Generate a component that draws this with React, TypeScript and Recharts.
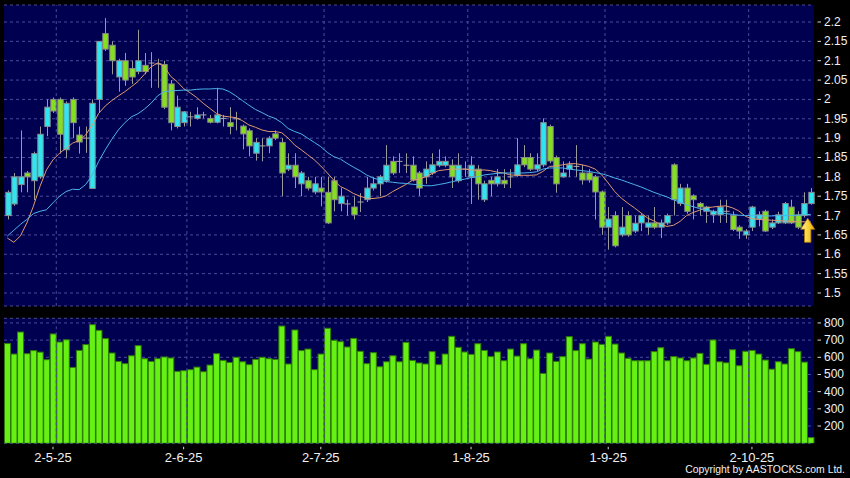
import { ComposedChart, BarChart, Bar, Line, XAxis, YAxis, CartesianGrid, ReferenceLine, ReferenceDot } from "recharts"

// daily candles
const opens = [
  1.70, 1.73, 1.78, 1.81, 1.79, 1.80, 1.93, 2.0, 2.0, 1.87,
  2.0, 1.908, 1.90, 1.77, 2.0, 2.17, 2.14, 2.058, 2.10, 2.08,
  2.072, 2.088, 2.094, 2.092, 2.09, 2.04, 1.93, 1.94, 1.955, 1.951,
  1.96, 1.951, 1.941, 1.951, 1.94, 1.95, 1.931, 1.919, 1.861, 1.88,
  1.88, 1.911, 1.889, 1.82, 1.83, 1.782, 1.79, 1.761, 1.771, 1.76,
  1.79, 1.731, 1.73, 1.722, 1.735, 1.741, 1.771, 1.782, 1.79, 1.84,
  1.84, 1.83, 1.83, 1.81, 1.80, 1.81, 1.83, 1.83, 1.83, 1.79,
  1.82, 1.80, 1.82, 1.741, 1.791, 1.782, 1.791, 1.80, 1.804, 1.85,
  1.85, 1.82, 1.831, 1.93, 1.85, 1.80, 1.82, 1.827, 1.81, 1.81,
  1.80, 1.761, 1.67, 1.70, 1.65, 1.70, 1.66, 1.681, 1.67, 1.681,
  1.67, 1.681, 1.831, 1.731, 1.771, 1.751, 1.731, 1.711, 1.702, 1.702,
  1.711, 1.70, 1.67, 1.65, 1.67, 1.691, 1.711, 1.67, 1.681, 1.681,
  1.722, 1.702, 1.70, 1.731,
]
const highs = [
  1.765, 1.81, 1.92, 1.815, 1.865, 1.93, 2.0, 2.005, 2.005, 1.995,
  2.005, 1.93, 1.93, 2.0, 2.15, 2.21, 2.15, 2.105, 2.12, 2.10,
  2.18, 2.12, 2.122, 2.105, 2.10, 2.05, 2.01, 1.97, 1.968, 1.98,
  1.968, 1.96, 2.03, 1.96, 1.98, 1.968, 1.935, 1.925, 1.90, 1.90,
  1.905, 1.92, 1.90, 1.861, 1.861, 1.815, 1.80, 1.80, 1.80, 1.80,
  1.80, 1.771, 1.741, 1.75, 1.758, 1.80, 1.80, 1.805, 1.882, 1.853,
  1.861, 1.861, 1.853, 1.815, 1.84, 1.861, 1.871, 1.853, 1.845, 1.861,
  1.84, 1.853, 1.83, 1.79, 1.80, 1.82, 1.82, 1.82, 1.90, 1.882,
  1.861, 1.861, 1.951, 1.935, 1.855, 1.84, 1.84, 1.882, 1.831, 1.82,
  1.805, 1.765, 1.722, 1.711, 1.722, 1.711, 1.70, 1.705, 1.70, 1.722,
  1.69, 1.705, 1.835, 1.782, 1.782, 1.755, 1.735, 1.725, 1.715, 1.741,
  1.741, 1.711, 1.675, 1.665, 1.725, 1.711, 1.715, 1.69, 1.71, 1.735,
  1.741, 1.711, 1.76, 1.771,
]
const lows = [
  1.69, 1.725, 1.76, 1.76, 1.74, 1.795, 1.905, 1.965, 1.86, 1.848,
  1.90, 1.86, 1.862, 1.77, 1.965, 2.125, 2.065, 2.02, 2.035, 2.04,
  2.065, 2.065, 2.03, 2.03, 1.975, 1.92, 1.925, 1.93, 1.93, 1.948,
  1.951, 1.938, 1.938, 1.93, 1.91, 1.92, 1.871, 1.853, 1.842, 1.84,
  1.861, 1.895, 1.75, 1.815, 1.771, 1.75, 1.765, 1.755, 1.724, 1.678,
  1.711, 1.711, 1.70, 1.69, 1.709, 1.735, 1.765, 1.75, 1.785, 1.805,
  1.81, 1.81, 1.788, 1.751, 1.782, 1.805, 1.825, 1.825, 1.771, 1.785,
  1.80, 1.73, 1.741, 1.735, 1.75, 1.775, 1.771, 1.771, 1.80, 1.825,
  1.815, 1.815, 1.825, 1.835, 1.759, 1.798, 1.80, 1.80, 1.78, 1.785,
  1.69, 1.65, 1.612, 1.618, 1.645, 1.645, 1.655, 1.66, 1.65, 1.665,
  1.642, 1.676, 1.70, 1.725, 1.705, 1.69, 1.70, 1.681, 1.681, 1.681,
  1.681, 1.66, 1.64, 1.64, 1.66, 1.672, 1.658, 1.665, 1.678, 1.678,
  1.678, 1.665, 1.695, 1.728,
]
const closes = [
  1.76, 1.80, 1.80, 1.80, 1.86, 1.91, 1.98, 1.97, 1.91, 1.99,
  1.94, 1.89, 1.90, 1.99, 2.15, 2.13, 2.10, 2.10, 2.05, 2.058,
  2.10, 2.072, 2.094, 2.092, 1.98, 1.94, 1.98, 1.968, 1.955, 1.96,
  1.96, 1.941, 1.96, 1.951, 1.93, 1.95, 1.911, 1.88, 1.889, 1.88,
  1.90, 1.90, 1.81, 1.83, 1.80, 1.81, 1.771, 1.782, 1.761, 1.681,
  1.741, 1.75, 1.73, 1.702, 1.735, 1.771, 1.782, 1.80, 1.83, 1.81,
  1.84, 1.83, 1.792, 1.771, 1.82, 1.831, 1.84, 1.84, 1.80, 1.83,
  1.82, 1.83, 1.782, 1.782, 1.782, 1.80, 1.782, 1.80, 1.831, 1.831,
  1.82, 1.831, 1.94, 1.841, 1.782, 1.81, 1.831, 1.827, 1.792, 1.792,
  1.761, 1.67, 1.691, 1.622, 1.67, 1.65, 1.68, 1.70, 1.681, 1.67,
  1.681, 1.70, 1.741, 1.771, 1.711, 1.741, 1.722, 1.722, 1.711, 1.722,
  1.711, 1.664, 1.66, 1.66, 1.722, 1.702, 1.66, 1.681, 1.702, 1.731,
  1.681, 1.67, 1.731, 1.76,
]
const volumes = [
  680, 619, 747, 621, 639, 630, 586, 736, 689, 702,
  541, 640, 674, 790, 757, 709, 625, 576, 563, 609,
  668, 592, 576, 592, 602, 596, 518, 522, 528, 543,
  516, 555, 621, 582, 570, 600, 574, 557, 588, 600,
  592, 588, 782, 561, 759, 639, 648, 528, 619, 769,
  699, 691, 660, 710, 635, 563, 627, 545, 574, 609,
  574, 687, 582, 567, 561, 633, 557, 619, 722, 658,
  631, 617, 679, 640, 604, 631, 580, 648, 607, 679,
  592, 642, 506, 625, 576, 604, 720, 639, 679, 590,
  689, 675, 722, 677, 625, 594, 580, 580, 580, 633,
  656, 580, 604, 596, 580, 596, 623, 559, 701, 574,
  568, 644, 551, 635, 640, 619, 584, 531, 574, 561,
  650, 633, 572, 133,
]
// orange and blue moving average lines
const maShort = [
  1.642, 1.631, 1.647, 1.681, 1.724, 1.775, 1.818, 1.844, 1.861, 1.874,
  1.887, 1.894, 1.908, 1.934, 1.964, 1.983, 1.997, 2.009, 2.02, 2.033,
  2.046, 2.065, 2.084, 2.094, 2.086, 2.06, 2.046, 2.028, 2.017, 2.005,
  1.99, 1.977, 1.964, 1.957, 1.955, 1.953, 1.945, 1.934, 1.928, 1.921,
  1.917, 1.917, 1.914, 1.90, 1.882, 1.87, 1.857, 1.844, 1.828, 1.81,
  1.791, 1.775, 1.767, 1.757, 1.75, 1.745, 1.744, 1.746, 1.751, 1.762,
  1.771, 1.78, 1.791, 1.794, 1.80, 1.808, 1.816, 1.818, 1.82, 1.82,
  1.82, 1.818, 1.816, 1.818, 1.816, 1.812, 1.81, 1.805, 1.804, 1.804,
  1.804, 1.805, 1.814, 1.827, 1.828, 1.831, 1.834, 1.834, 1.831, 1.827,
  1.82, 1.805, 1.784, 1.762, 1.745, 1.732, 1.72, 1.707, 1.694, 1.686,
  1.677, 1.672, 1.675, 1.685, 1.70, 1.708, 1.714, 1.72, 1.722, 1.724,
  1.725, 1.72, 1.712, 1.698, 1.692, 1.69, 1.689, 1.688, 1.687, 1.686,
  1.685, 1.684, 1.684, 1.684,
]
const maLong = [
  1.647, 1.662, 1.677, 1.69, 1.705, 1.711, 1.715, 1.733, 1.75, 1.762,
  1.768, 1.767, 1.78, 1.805, 1.84, 1.87, 1.897, 1.921, 1.94, 1.955,
  1.963, 1.975, 1.99, 2.009, 2.02, 2.022, 2.023, 2.024, 2.024, 2.026,
  2.027, 2.027, 2.028, 2.027, 2.02, 2.009, 1.997, 1.985, 1.974, 1.966,
  1.957, 1.951, 1.94, 1.925, 1.917, 1.911, 1.90, 1.889, 1.878, 1.863,
  1.852, 1.846, 1.835, 1.825, 1.816, 1.805, 1.797, 1.792, 1.788, 1.786,
  1.784, 1.783, 1.781, 1.779, 1.777, 1.777, 1.78, 1.783, 1.787, 1.791,
  1.794, 1.798, 1.80, 1.805, 1.807, 1.809, 1.81, 1.81, 1.81, 1.81,
  1.811, 1.813, 1.82, 1.823, 1.823, 1.823, 1.82, 1.818, 1.816, 1.814,
  1.811, 1.808, 1.803, 1.797, 1.792, 1.786, 1.78, 1.774, 1.767, 1.76,
  1.754, 1.748, 1.741, 1.734, 1.728, 1.723, 1.718, 1.714, 1.711, 1.708,
  1.705, 1.703, 1.701, 1.70, 1.70, 1.699, 1.699, 1.699, 1.70, 1.70,
  1.70, 1.701, 1.702, 1.703,
]

const priceTicks = [1.5, 1.55, 1.6, 1.65, 1.7, 1.75, 1.8, 1.85, 1.9, 1.95, 2, 2.05, 2.1, 2.15, 2.2]
const volTicks = [200, 300, 400, 500, 600, 700, 800]
const dateTicks = [7, 27, 48, 71, 92, 114]
const dateLabels = ["2-5-25", "2-6-25", "2-7-25", "1-8-25", "1-9-25", "2-10-25"]
const monthLines = [8, 28, 49, 71, 92, 114]
const arrowAt = 122

const data = opens.map((o, i) => ({
  idx: i,
  open: o,
  high: highs[i],
  low: lows[i],
  close: closes[i],
  range: [lows[i], highs[i]],
  vol: volumes[i],
  maShort: maShort[i],
  maLong: maLong[i],
}))

const FONT = "'Liberation Sans', Arial, sans-serif"
const NAVY = "#000050"
const GRID = "#4a4a98"

function Candle(props: any) {
  const { x, y, width, height, payload } = props
  if (!payload) return null
  const { open, close, high, low } = payload
  const h = Math.abs(height)
  const top = height < 0 ? y + height : y
  const k = high === low ? 0 : h / (high - low)
  const yOf = (v: number) => top + (high - v) * k
  const cx = Math.round(x + width / 2) + 0.5
  const up = close > open
  const bTop = yOf(Math.max(open, close))
  const bBot = yOf(Math.min(open, close))
  return (
    <g>
      <line x1={cx} x2={cx} y1={top} y2={top + h} stroke="#9a9a9a" strokeWidth={1} />
      {open === close ? (
        <line x1={cx - 3} x2={cx + 3} y1={bTop} y2={bTop} stroke="#a8a8a8" strokeWidth={1} />
      ) : (
        <rect
          x={cx - 2.7}
          y={bTop}
          width={5.4}
          height={Math.max(bBot - bTop, 1)}
          fill={up ? "#2ee6f2" : "#84e01e"}
          stroke="#8a8a8a"
          strokeWidth={1}
        />
      )}
    </g>
  )
}

function VolBar(props: any) {
  const { x, y, width, height } = props
  return <rect x={x + 0.5} y={y} width={width - 1} height={height} fill="#66f014" stroke="#2f7a08" strokeWidth={1} />
}

function RightTick(props: any) {
  const { x, y, payload } = props
  return (
    <g>
      <line x1={x + 3.5} x2={x + 7} y1={y} y2={y} stroke="#d8d8d8" strokeWidth={1} />
      <text x={x + 10} y={y + 4} fill="#f0f0f0" fontSize={12} fontFamily={FONT}>
        {payload.value}
      </text>
    </g>
  )
}

function DateTick(props: any) {
  const { x, y, payload } = props
  const label = dateLabels[dateTicks.indexOf(payload.value)]
  return (
    <g>
      <line x1={x} x2={x} y1={y + 3.5} y2={y + 6} stroke="#d8d8d8" strokeWidth={1} />
      <text x={x} y={y + 19} fill="#f0f0f0" fontSize={13} fontFamily={FONT} textAnchor="middle">
        {label}
      </text>
    </g>
  )
}

function Arrow(props: any) {
  const { cx, cy } = props
  const x = cx + 3.5
  const pts = [
    [x, cy],
    [x + 7, cy + 11],
    [x + 3.2, cy + 11],
    [x + 3.2, cy + 24],
    [x - 3.2, cy + 24],
    [x - 3.2, cy + 11],
    [x - 7, cy + 11],
  ]
  return (
    <g>
      <defs>
        <linearGradient id="arrowFill" x1="0" y1="0" x2="1" y2="0">
          <stop offset="0%" stopColor="#fff58a" />
          <stop offset="100%" stopColor="#f0b000" />
        </linearGradient>
      </defs>
      <polygon points={pts.map((p) => p.join(",")).join(" ")} fill="url(#arrowFill)" stroke="#b07a00" strokeWidth={0.8} />
    </g>
  )
}

export default function App() {
  return (
    <div style={{ position: "absolute", left: 0, top: 0, width: 850, height: 478, background: "#000", fontFamily: FONT }}>
      <div style={{ position: "absolute", left: 0, top: 0 }}>
        <ComposedChart width={850} height={310} data={data} margin={{ top: 5, right: 0, bottom: 4, left: 4 }} barCategoryGap={0}>
          <CartesianGrid vertical={false} stroke={GRID} strokeDasharray="3 3" fill={NAVY} fillOpacity={1} />
          <XAxis dataKey="idx" type="category" hide />
          <XAxis xAxisId="g" dataKey="idx" type="number" domain={[0, 124]} allowDataOverflow hide />
          <YAxis
            orientation="right"
            width={36}
            domain={[1.4664, 2.2439]}
            allowDataOverflow
            ticks={priceTicks}
            axisLine={false}
            tickLine={false}
            tickSize={0}
            tickMargin={0}
            tick={<RightTick />}
            interval={0}
          />
          {monthLines.map((m) => (
            <ReferenceLine key={m} xAxisId="g" x={m} stroke={GRID} strokeDasharray="3 3" />
          ))}
          <Bar dataKey="range" shape={<Candle />} isAnimationActive={false} />
          <Line type="linear" dataKey="maShort" stroke="#e09a70" strokeWidth={1} dot={false} isAnimationActive={false} />
          <Line type="linear" dataKey="maLong" stroke="#4cb4ea" strokeWidth={1} dot={false} isAnimationActive={false} />
          <ReferenceDot x={arrowAt} y={1.693} shape={<Arrow />} />
        </ComposedChart>
      </div>
      <div style={{ position: "absolute", left: 0, top: 310 }}>
        <BarChart width={850} height={168} data={data} margin={{ top: 8.3, right: 0, bottom: 4.7, left: 4 }} barCategoryGap={0}>
          <CartesianGrid vertical={false} stroke={GRID} strokeDasharray="3 3" fill={NAVY} fillOpacity={1} />
          <XAxis
            dataKey="idx"
            type="category"
            height={30}
            ticks={dateTicks}
            interval={0}
            axisLine={false}
            tickLine={false}
            tickSize={0}
            tickMargin={0}
            tick={<DateTick />}
          />
          <XAxis xAxisId="g" dataKey="idx" type="number" domain={[0, 124]} allowDataOverflow hide />
          <YAxis
            orientation="right"
            width={36}
            domain={[99.4, 827]}
            allowDataOverflow
            ticks={volTicks}
            axisLine={false}
            tickLine={false}
            tickSize={0}
            tickMargin={0}
            tick={<RightTick />}
            interval={0}
          />
          {monthLines.map((m) => (
            <ReferenceLine key={m} xAxisId="g" x={m} stroke={GRID} strokeDasharray="3 3" />
          ))}
          <Bar dataKey="vol" shape={<VolBar />} isAnimationActive={false} />
        </BarChart>
      </div>
      <div style={{ position: "absolute", right: 5, top: 464, color: "#f0f0f0", fontSize: 10.4, fontFamily: FONT, whiteSpace: "nowrap" }}>
        Copyright by AASTOCKS.com Ltd.
      </div>
    </div>
  )
}
